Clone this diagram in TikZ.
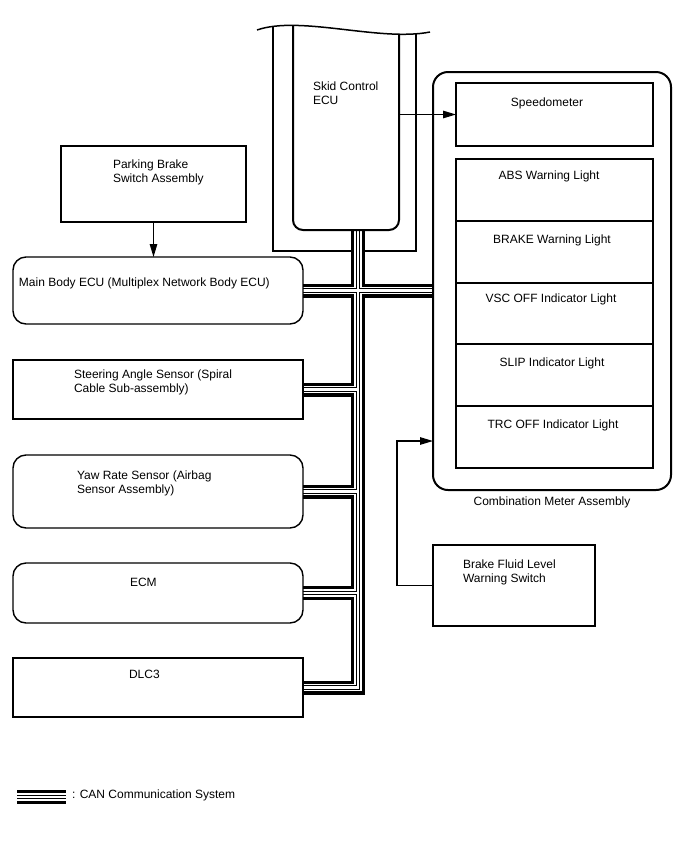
\documentclass[tikz,border=0pt]{standalone}
\usepackage{fontspec}
\setmainfont{Liberation Sans}
\usetikzlibrary{arrows.meta}
\pgfdeclarelayer{background}
\pgfsetlayers{background,main}
\begin{document}
\begin{tikzpicture}[x=1pt,y=-1pt,
  txt/.style={font=\fontsize{12}{14}\selectfont, inner sep=0pt, outer sep=0pt, align=left},
  box/.style={draw, line width=1.4pt, inner sep=0pt, outer sep=0pt, anchor=north west},
  rbox/.style={box, rounded corners=13pt},
  arr/.style={line width=1.2pt, -{Triangle[length=13pt,width=7.5pt]}},
]
\useasboundingbox (0,0) rectangle (688,852);
\begin{pgfonlayer}{background}
  \fill[white] (0,0) rectangle (688,852);
\end{pgfonlayer}

% left column
\node[box, minimum width=185pt, minimum height=76pt] (pb) at (61,146) {};
\node[rbox, minimum width=290pt, minimum height=67pt] (mb) at (13,257) {};
\node[box, minimum width=290pt, minimum height=59pt] (sas) at (13,360) {};
\node[rbox, minimum width=290pt, minimum height=73pt] (yaw) at (13,455) {};
\node[rbox, minimum width=290pt, minimum height=60pt] (ecm) at (13,563) {};
\node[box, minimum width=290pt, minimum height=59pt] (dlc) at (13,658) {};

\node[txt, anchor=west] at (113,172) {Parking Brake\\Switch Assembly};
\node[txt, anchor=west] at (19,283) {Main Body ECU (Multiplex Network Body ECU)};
\node[txt, anchor=west] at (74,382) {Steering Angle Sensor (Spiral\\Cable Sub-assembly)};
\node[txt, anchor=west] at (77,483) {Yaw Rate Sensor (Airbag\\Sensor Assembly)};
\node[txt, anchor=west] at (130,582) {ECM};
\node[txt, anchor=west] at (129,674) {DLC3};

% skid control ECU
\node[inner sep=0pt, outer sep=0pt, minimum width=106pt, minimum height=205pt, anchor=north west] (skid) at (293,25) {};
\begin{scope}
  \clip (257,30) .. controls (300,15) and (380,42) .. (430,32) -- (430,262) -- (257,262) -- cycle;
  \draw[line width=2pt, rounded corners=10pt] (293,0) -- (293,230) -- (399,230) -- (399,0);
\end{scope}
\draw[line width=1.5pt] (257,30) .. controls (300,15) and (380,42) .. (430,32);
\node[txt, anchor=west] at (313,93) {Skid Control\\ECU};

% combination meter
\node[box, line width=2pt, rounded corners=15pt, minimum width=238pt, minimum height=418pt] (cm) at (433,72) {};
\node[box, minimum width=197pt, minimum height=63pt] (spd) at (456,83) {};
\node[box, minimum width=197pt, minimum height=62pt] (abs) at (456,159) {};
\node[box, minimum width=197pt, minimum height=62pt] (brk) at (456,221) {};
\node[box, minimum width=197pt, minimum height=61pt] (vsc) at (456,283) {};
\node[box, minimum width=197pt, minimum height=62pt] (slip) at (456,344) {};
\node[box, minimum width=197pt, minimum height=62pt] (trc) at (456,406) {};
\node[txt] at (547,103) {Speedometer};
\node[txt] at (549,176) {ABS Warning Light};
\node[txt] at (552,240) {BRAKE Warning Light};
\node[txt] at (551,299) {VSC OFF Indicator Light};
\node[txt] at (552,363) {SLIP Indicator Light};
\node[txt] at (553,425) {TRC OFF Indicator Light};
\node[txt] at (552,502) {Combination Meter Assembly};

% brake fluid
\node[box, minimum width=162pt, minimum height=81pt] (bf) at (433,545) {};
\node[txt, anchor=west] at (463,572) {Brake Fluid Level\\Warning Switch};

% arrows
\coordinate (cmin) at (433,441);
\draw[arr] (pb.south) -- (pb.south |- mb.north);
\draw[arr] (skid.east |- spd.west) -- (spd.west);
\draw[arr] (bf.west) -- ++(-36,0) |- (cmin);

% legend
\node[txt, anchor=west] (leg) at (72,795) {: CAN Communication System};
\coordinate (legA) at (17,797);
\coordinate (legB) at (66,797);

% CAN bus
\coordinate (busx) at (358,0);
\begin{pgfonlayer}{background}
  \begin{scope}
    \clip (257,30) .. controls (300,15) and (380,42) .. (430,32) -- (430,262) -- (257,262) -- cycle;
    \draw[line width=2pt] (273,0) -- (273,251) -- (416,251) -- (416,0);
  \end{scope}
  \foreach \w/\c in {14/black,7.6/white,4.8/black,2.2/white}{
    \draw[line width=\w pt, draw=\c, line join=miter]
      (skid.south -| busx) -- (busx |- dlc.east) -- (dlc.east)
      (mb.east) -- (mb.east -| cm.west)
      (sas.east) -- (sas.east -| busx)
      (yaw.east) -- (yaw.east -| busx)
      (ecm.east) -- (ecm.east -| busx)
      (legA) -- (legB);
  }
\end{pgfonlayer}
\end{tikzpicture}
\end{document}
